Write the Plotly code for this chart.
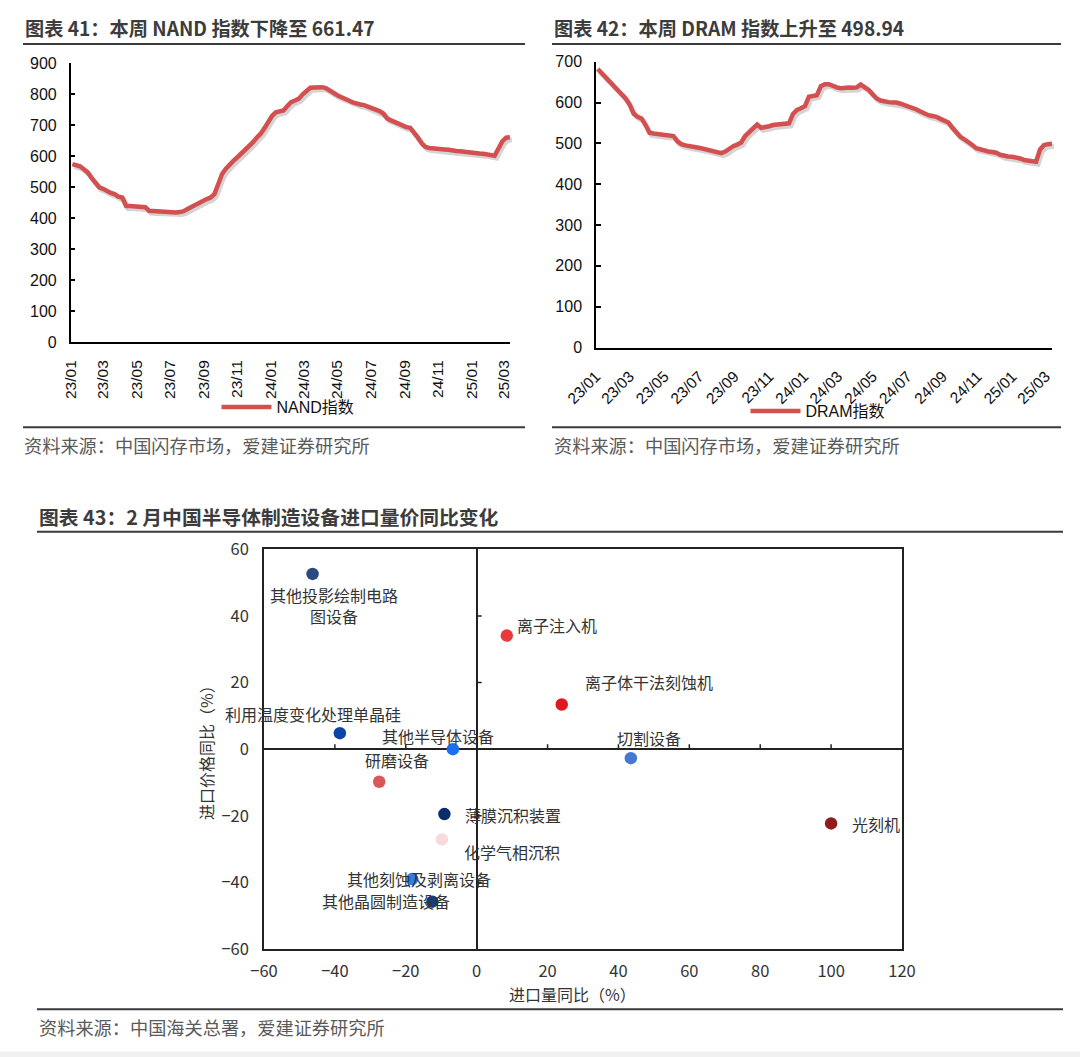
import pandas as pd
import plotly.graph_objects as go

W, H = 1080, 1057

# CFM weekly price indices, Jan 2023 - Mar 2025
nand_values = [
    575, 572, 568, 558, 548, 530, 515, 500, 495, 487,
    482, 478, 470, 467, 440, 440, 439, 438, 437, 436,
    424, 423, 422, 421, 420, 420, 419, 419, 420, 423,
    430, 437, 443, 450, 456, 462, 467, 478, 510, 543,
    560, 575, 586, 597, 608, 620, 632, 645, 660, 672,
    690, 710, 730, 742, 746, 748, 762, 775, 780, 786,
    800, 813, 821, 822, 823, 823, 820, 814, 805, 797,
    792, 788, 780, 774, 769, 767, 765, 760, 756, 752,
    746, 738, 722, 716, 710, 702, 698, 694, 692, 678,
    660, 642, 630, 627, 625, 624, 623, 622, 621, 618,
    617, 616, 614, 612, 611, 610, 609, 608, 607, 604,
    602, 625, 648, 660, 661.47,
]
dram_values = [
    682, 672, 662, 651, 640, 630, 620, 610, 595, 573,
    565, 561, 545, 526, 524, 523, 522, 521, 520, 518,
    505, 498, 495, 494, 492, 490, 488, 486, 484, 481,
    478, 476, 480, 488, 493, 497, 502, 518, 528, 537,
    546, 538, 539, 542, 545, 546, 547, 548, 549, 572,
    582, 586, 591, 614, 616, 618, 640, 645, 645, 640,
    637, 635, 637, 637, 636, 637, 644, 638, 631, 620,
    610, 605, 602, 601, 600, 600, 597, 594, 591, 587,
    583, 578, 572, 569, 567, 565, 560, 556, 551, 538,
    525, 516, 510, 504, 496, 488, 485, 482, 480, 479,
    477, 472, 469, 468, 467, 466, 463, 459, 457, 456,
    455, 485, 496, 498, 498.94,
]
week_dates = pd.date_range("2023-01-04", periods=len(nand_values), freq="7D")

# February import volume / price yoy (%)
devices = [
    "其他投影绘制电路图设备", "离子注入机", "离子体干法刻蚀机", "利用温度变化处理单晶硅",
    "其他半导体设备", "切割设备", "研磨设备", "光刻机",
    "薄膜沉积装置", "化学气相沉积", "其他刻蚀及剥离设备", "其他晶圆制造设备",
]
volume_yoy = [-46.3, 8.5, 24.0, -38.6, -6.7, 43.5, -27.5, 100.0, -9.1, -9.8, -18.2, -12.5]
price_yoy = [52.6, 34.1, 13.4, 4.8, 0.0, -2.7, -9.8, -22.3, -19.5, -27.1, -39.0, -45.8]

dot_colors = ["#2B4A80", "#E8393E", "#E0191F", "#0B46A6", "#1A6FF0", "#4677D2",
              "#D85858", "#8E1E1E", "#0A2C6B", "#F9D9DB", "#2B7FE6", "#133F7C"]
# (xanchor, dx px, dy px down, wrap after n chars)
label_style = [
    ("center", 21, 32, 8), ("left", 8, -11, 0), ("left", 21, -23, 0), ("center", -27, -19, 0),
    ("center", -15, -13, 0), ("center", 18, -20, 0), ("center", 18, -22, 0), ("left", 19, 1, 0),
    ("left", 19, 1, 0), ("left", 20, 13, 0), ("center", 7, 0, 0), ("center", -46, -1, 0),
]

RED = "#D44F4F"
CJK = "Noto Sans CJK SC"
ARIAL = "Liberation Sans, Arial, Noto Sans CJK SC"


def px(x):
    return x / W


def py(y):
    return 1 - y / H


fig = go.Figure()

# ---- line charts (shadow copy drawn on slightly shifted axes) ----
fig.add_trace(go.Scatter(x=week_dates, y=nand_values, xaxis="x", yaxis="y", mode="lines",
                         line=dict(color="rgba(0,0,0,0.17)", width=5),
                         showlegend=False, hoverinfo="skip"))
fig.add_trace(go.Scatter(x=week_dates, y=nand_values, xaxis="x2", yaxis="y2", mode="lines",
                         line=dict(color=RED, width=4.5), name="NAND指数", legend="legend"))
fig.add_trace(go.Scatter(x=week_dates, y=dram_values, xaxis="x3", yaxis="y3", mode="lines",
                         line=dict(color="rgba(0,0,0,0.17)", width=5),
                         showlegend=False, hoverinfo="skip"))
fig.add_trace(go.Scatter(x=week_dates, y=dram_values, xaxis="x4", yaxis="y4", mode="lines",
                         line=dict(color=RED, width=4.5), name="DRAM指数", legend="legend2"))

# ---- scatter ----
fig.add_trace(go.Scatter(x=volume_yoy, y=price_yoy, xaxis="x5", yaxis="y5", mode="markers",
                         marker=dict(size=12.5, color=dot_colors), text=devices,
                         showlegend=False, hovertemplate="%{text}<br>%{x}, %{y}<extra></extra>"))

x_range = ["2023-01-01", str(week_dates[-1].date())]

date_axis = dict(type="date", range=x_range, tick0="2023-01-01", dtick="M2", tickformat="%y/%m",
                 showline=True, linecolor="black", linewidth=1.5, ticks="", showgrid=False,
                 zeroline=False, automargin=False,
                 tickfont=dict(family=ARIAL, size=15.5, color="#111"))
val_axis = dict(showline=True, linecolor="black", linewidth=1.5, ticks="inside", ticklen=5,
                tickwidth=1.5, tickcolor="black", showgrid=False, zeroline=False,
                automargin=False, ticklabelstandoff=9,
                tickfont=dict(family=ARIAL, size=16, color="#111"))

nand_x, nand_y = [70.7, 510], [342.3, 63.3]
dram_x, dram_y = [596, 1052], [347.5, 61.7]
sh = (2, 2.5)

fig.update_layout(
    template="none",
    xaxis=dict(domain=[px(nand_x[0] + sh[0]), px(nand_x[1] + sh[0])], range=x_range,
               type="date", visible=False, anchor="y"),
    yaxis=dict(domain=[py(nand_y[0] + sh[1]), py(nand_y[1] + sh[1])], range=[0, 900],
               visible=False, anchor="x"),
    xaxis2=dict(date_axis, domain=[px(nand_x[0]), px(nand_x[1])], anchor="y2",
                tickangle=-90, ticklabelstandoff=10),
    yaxis2=dict(val_axis, domain=[py(nand_y[0]), py(nand_y[1])], range=[0, 900], dtick=100,
                anchor="x2"),
    xaxis3=dict(domain=[px(dram_x[0] + sh[0]), px(dram_x[1] + sh[0])], range=x_range,
                type="date", visible=False, anchor="y3"),
    yaxis3=dict(domain=[py(dram_y[0] + sh[1]), py(dram_y[1] + sh[1])], range=[0, 700],
                visible=False, anchor="x3"),
    xaxis4=dict(date_axis, domain=[px(dram_x[0]), px(dram_x[1])], anchor="y4",
                tickangle=-45, ticklabelstandoff=12),
    yaxis4=dict(val_axis, domain=[py(dram_y[0]), py(dram_y[1])], range=[0, 700], dtick=100,
                anchor="x4"),
    xaxis5=dict(domain=[px(264), px(902)], range=[-60, 120], dtick=20, anchor="y5",
                showline=True, mirror=True, linecolor="#222", linewidth=1.5, ticks="",
                showgrid=False, zeroline=True, zerolinecolor="#222", zerolinewidth=1.5,
                automargin=False, ticklabelstandoff=6,
                tickfont=dict(family=CJK, size=16.5, color="#333")),
    yaxis5=dict(domain=[py(949), py(549.3)], range=[-60, 60], dtick=20, anchor="x5",
                showline=True, mirror=True, linecolor="#222", linewidth=1.5, ticks="",
                showgrid=False, zeroline=True, zerolinecolor="#222", zerolinewidth=1.5,
                automargin=False, ticklabelstandoff=10,
                tickfont=dict(family=CJK, size=16.5, color="#333")),
    legend=dict(x=px(288), y=py(407), xanchor="center", yanchor="middle", itemwidth=50,
                font=dict(family=ARIAL, size=16, color="#111"), bgcolor="rgba(0,0,0,0)"),
    legend2=dict(x=px(818), y=py(411), xanchor="center", yanchor="middle", itemwidth=50,
                 font=dict(family=ARIAL, size=16, color="#111"), bgcolor="rgba(0,0,0,0)"),
    width=W, height=H, margin=dict(l=0, r=0, t=0, b=0, pad=0, autoexpand=False),
    paper_bgcolor="white", plot_bgcolor="rgba(0,0,0,0)",
    font=dict(family=CJK, color="#333"),
)

# ---- titles, rules, sources ----
titles = [
    (23, 28, "图表 41：本周 NAND 指数下降至 661.47", 19.2),
    (552, 28, "图表 42：本周 DRAM 指数上升至 498.94", 19.2),
    (37, 516, "图表 43：2 月中国半导体制造设备进口量价同比变化", 19.8),
]
for x, y, t, fs in titles:
    fig.add_annotation(x=px(x), y=py(y), xref="paper", yref="paper", xanchor="left",
                       yanchor="middle", showarrow=False, text="<b>%s</b>" % t,
                       font=dict(family=CJK, size=fs, color="#3c3c3c"))

sources = [
    (22, 445, "资料来源：中国闪存市场，爱建证券研究所"),
    (552, 445, "资料来源：中国闪存市场，爱建证券研究所"),
    (37, 1027, "资料来源：中国海关总署，爱建证券研究所"),
]
for x, y, t in sources:
    fig.add_annotation(x=px(x), y=py(y), xref="paper", yref="paper", xanchor="left",
                       yanchor="middle", showarrow=False, text=t,
                       font=dict(family=CJK, size=18.2, color="#5a5a5a"))

rules = [(23, 525, 44), (552, 1061, 44), (23, 525, 427.3), (552, 1061, 427.3),
         (37, 1063, 531.7), (37, 1063, 1009.3)]
for x0, x1, y in rules:
    fig.add_shape(type="line", xref="paper", yref="paper", x0=px(x0), x1=px(x1),
                  y0=py(y), y1=py(y), line=dict(color="#3a3a3a", width=2))

fig.add_shape(type="rect", xref="paper", yref="paper", x0=0, x1=1, y0=0, y1=py(1051.7),
              fillcolor="#f1f1f1", line=dict(width=0), layer="below")

# axis titles of the scatter
fig.add_annotation(x=px(572), y=py(994), xref="paper", yref="paper", showarrow=False,
                   xanchor="center", yanchor="middle",
                   text="进口量同比（%）", font=dict(family=CJK, size=16, color="#333"))
fig.add_annotation(x=px(206), y=py(749), xref="paper", yref="paper", showarrow=False,
                   xanchor="center", yanchor="middle", textangle=-90,
                   text="进口价格同比（%）", font=dict(family=CJK, size=16, color="#333"))

# small tick marks on the crossing zero axes
for t in [-40, -20, 20, 40, 60, 80, 100]:
    fig.add_shape(type="line", xref="x5", yref="y5", x0=t, x1=t, ysizemode="pixel",
                  yanchor=0, y0=0, y1=5, line=dict(color="#222", width=1.5))
for t in [-40, -20, 20, 40]:
    fig.add_shape(type="line", xref="x5", yref="y5", y0=t, y1=t, xsizemode="pixel",
                  xanchor=0, x0=0, x1=5, line=dict(color="#222", width=1.5))

# point labels
for name, vx, vy, (anc, dx, dy, wrap) in zip(devices, volume_yoy, price_yoy, label_style):
    txt = name[:wrap] + "<br>" + name[wrap:] if wrap else name
    fig.add_annotation(x=vx, y=vy, xref="x5", yref="y5", showarrow=False, text=txt,
                       xanchor=anc, yanchor="middle", xshift=dx, yshift=-dy, align="center",
                       font=dict(family=CJK, size=16, color="#333"))

fig.write_html("out.html", config={"displayModeBar": False},
               post_script="document.body.style.margin='0';")
